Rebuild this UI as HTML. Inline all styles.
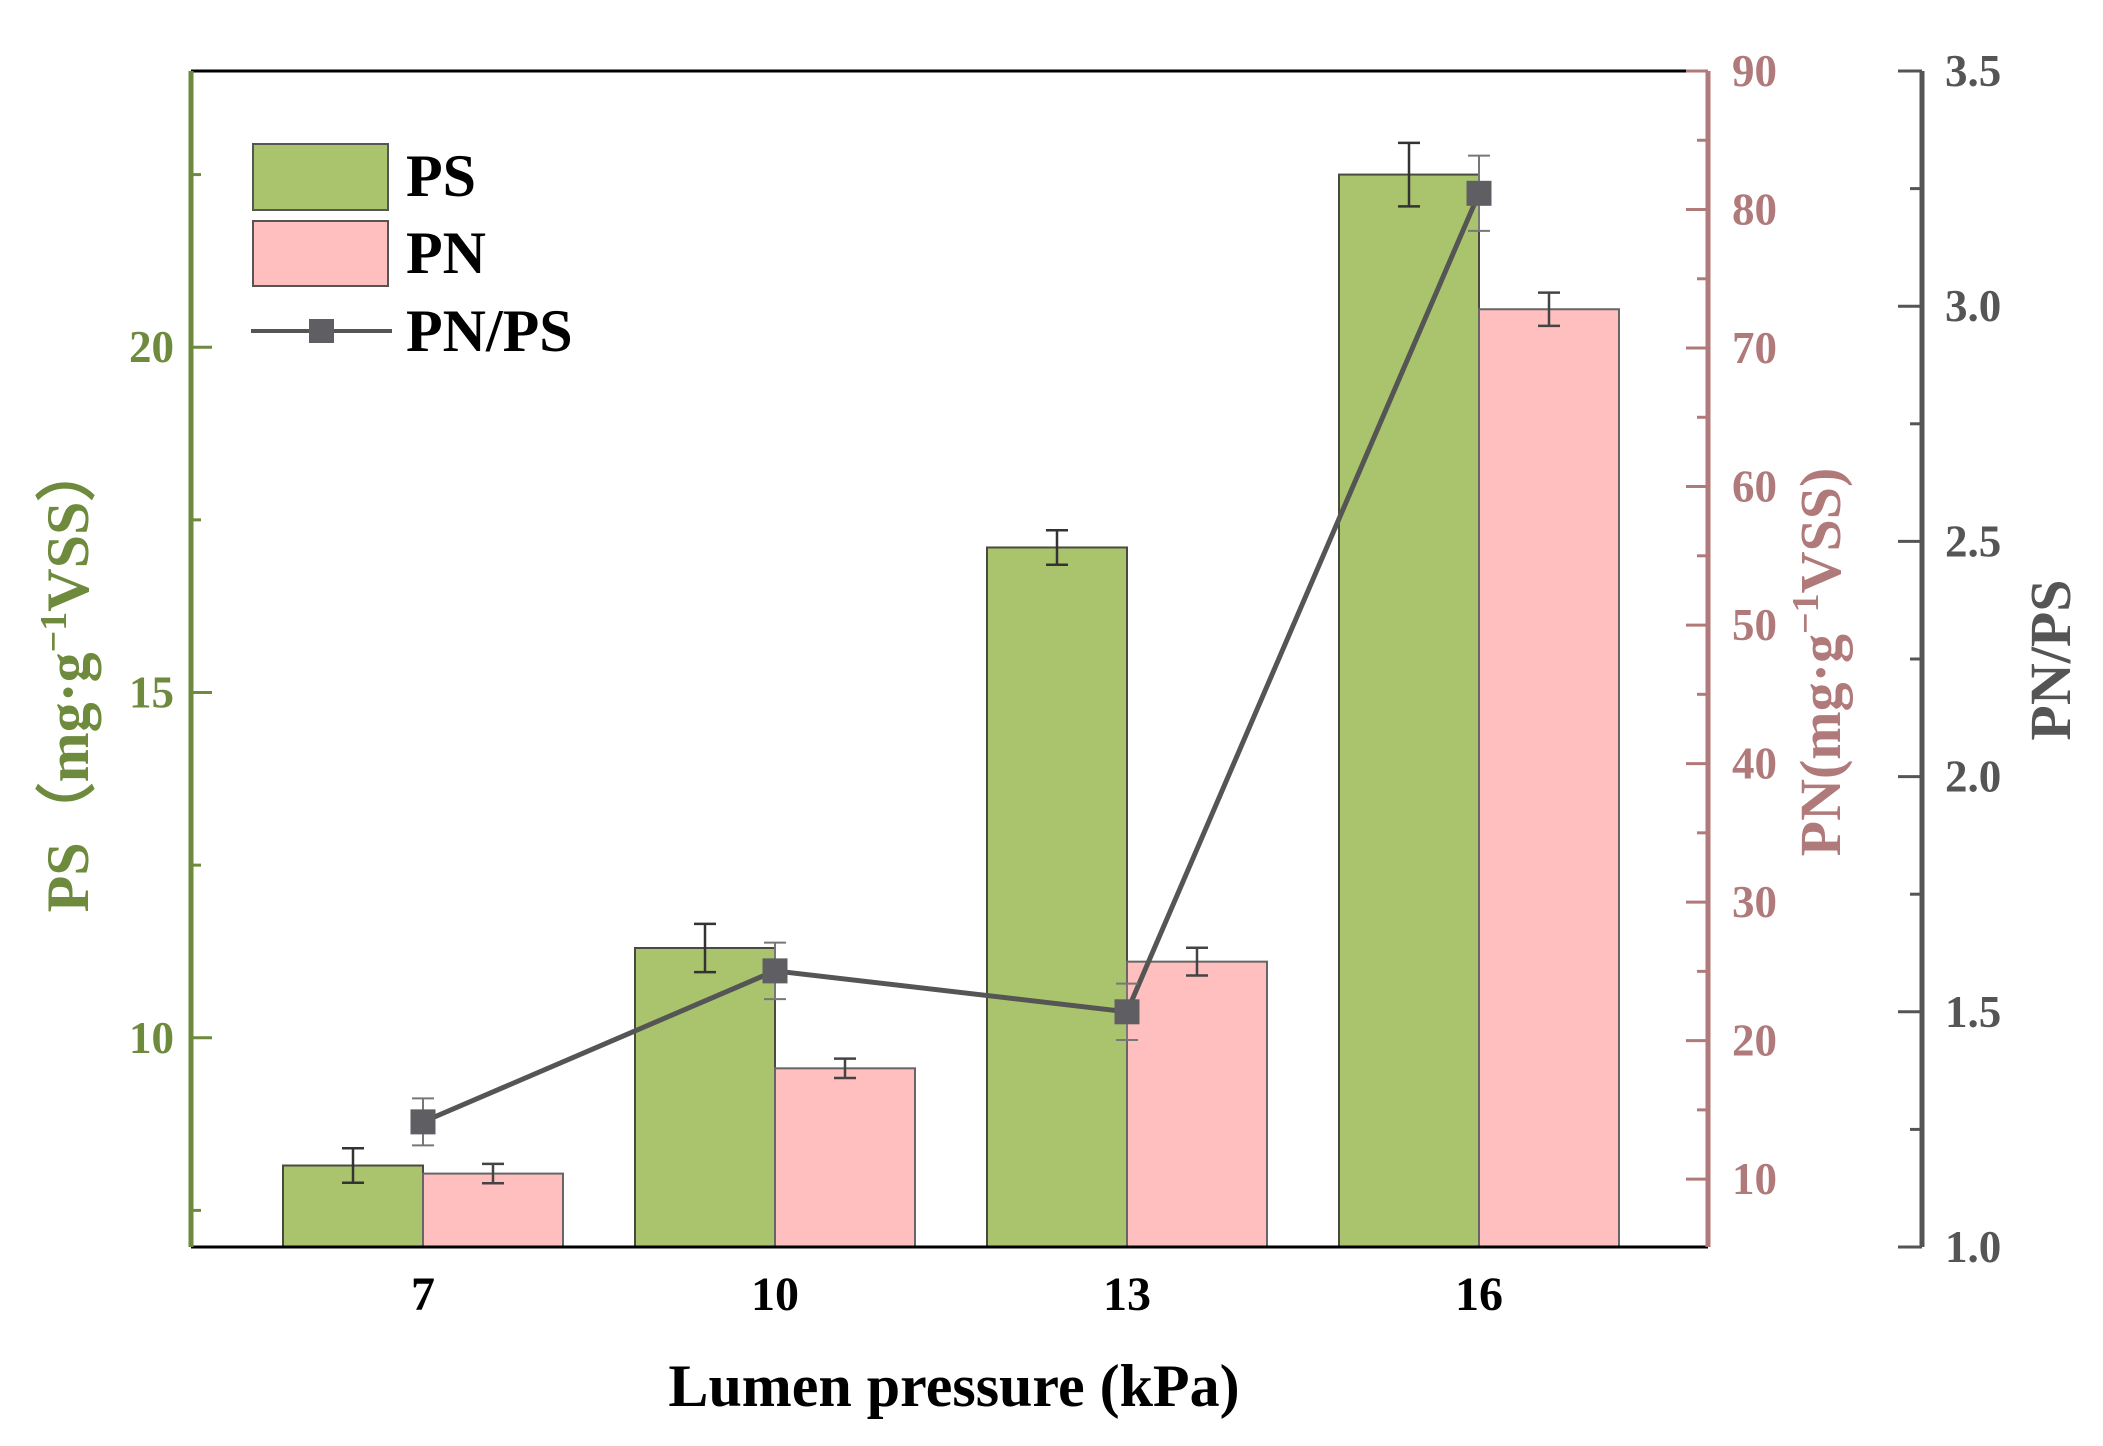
<!DOCTYPE html>
<html><head><meta charset="utf-8"><style>
html,body{margin:0;padding:0;background:#fff;}
svg{display:block;font-family:"Liberation Serif",serif;font-weight:bold;}
</style></head><body>
<svg id="chart" width="2103" height="1446" viewBox="0 0 2103 1446" xmlns="http://www.w3.org/2000/svg">
<g id="bars"></g>
<g id="line"></g>
<g id="axes"></g>
<g>
  <rect x="253" y="144" width="135" height="66" fill="#a9c46c" stroke="#555" stroke-width="2"/>
  <text x="406" y="196" font-size="60" fill="#000">PS</text>
  <rect x="253" y="221" width="135" height="65" fill="#ffbfbf" stroke="#555" stroke-width="2"/>
  <text x="406" y="273" font-size="60" fill="#000">PN</text>
  <line x1="251" y1="331" x2="392" y2="331" stroke="#555" stroke-width="4"/>
  <rect x="309" y="319" width="25" height="24" fill="#5f5f63"/>
  <text x="406" y="351" font-size="60" fill="#000">PN/PS</text>
</g>
<text x="954" y="1406" font-size="60" text-anchor="middle" fill="#000">Lumen pressure (kPa)</text>
<text transform="translate(88,677) rotate(-90)" font-size="60" text-anchor="middle" fill="#6e8a3c">PS（mg·g<tspan font-size="38" dy="-22">−1</tspan><tspan dy="22">VSS）</tspan></text>
<text transform="translate(1840,662) rotate(-90)" font-size="58" text-anchor="middle" fill="#b07a7a">PN(mg·g<tspan font-size="38" dy="-22">−1</tspan><tspan dy="22">VSS)</tspan></text>
<text transform="translate(2070,660) rotate(-90)" font-size="58" text-anchor="middle" fill="#555">PN/PS</text>
</svg>
<script>
const categories = ["7","10","13","16"];
const psValues = [8.15, 11.3, 17.1, 22.5];
const psErrors = [0.25, 0.35, 0.25, 0.46];
const pnValues = [10.4, 18.0, 25.7, 72.8];
const pnErrors = [0.7, 0.7, 1.0, 1.2];
const ratioValues = [1.266, 1.587, 1.50, 3.24];
const ratioErrors = [0.05, 0.06, 0.06, 0.08];
const psTicks = [10, 15, 20];
const pnTicks = [10, 20, 30, 40, 50, 60, 70, 80, 90];
const ratioTicks = ["1.0","1.5","2.0","2.5","3.0","3.5"];

const NS = "http://www.w3.org/2000/svg";
const L = 191, R = 1708, T = 71, B = 1247, R2 = 1922;
const xC = i => 423 + 352 * i;
const yPS = v => B - (v - 6.97) / (24.0 - 6.97) * (B - T);
const yPN = v => B - (v - 5.1) / (90 - 5.1) * (B - T);
const yR = v => B - (v - 1) / 2.5 * (B - T);
function mk(tag, attrs, parent) {
  const e = document.createElementNS(NS, tag);
  for (const k in attrs) e.setAttribute(k, attrs[k]);
  parent.appendChild(e);
  return e;
}
const bars = document.getElementById('bars');
const line = document.getElementById('line');
const axes = document.getElementById('axes');
const BW = 140;
function errBar(x, y1, y2, col, name) {
  const g = mk('g', {stroke: col, 'stroke-width': 2.5}, bars);
  
  
  mk('line', {x1: x, y1: y1, x2: x, y2: y2}, g);
  mk('line', {x1: x - 11, y1: y1, x2: x + 11, y2: y1}, g);
  mk('line', {x1: x - 11, y1: y2, x2: x + 11, y2: y2}, g);
}
categories.forEach((c, i) => {
  const x = xC(i);
  let y = yPS(psValues[i]);
  const b1 = mk('rect', {x: x - BW, y: y, width: BW, height: B - y, fill: '#a9c46c', stroke: '#4a4a40', 'stroke-width': 2}, bars);
  
  
  errBar(x - BW / 2, yPS(psValues[i] + psErrors[i]), yPS(psValues[i] - psErrors[i]), '#333', 'ps-error-' + c);
  y = yPN(pnValues[i]);
  const b2 = mk('rect', {x: x, y: y, width: BW, height: B - y, fill: '#ffbfbf', stroke: '#666', 'stroke-width': 2}, bars);
  
  
  errBar(x + BW / 2, yPN(pnValues[i] + pnErrors[i]), yPN(pnValues[i] - pnErrors[i]), '#444', 'pn-error-' + c);
});
const pts = ratioValues.map((v, i) => xC(i) + ',' + yR(v)).join(' ');
const pl = mk('polyline', {points: pts, fill: 'none', stroke: '#555', 'stroke-width': 5}, line);


ratioValues.forEach((v, i) => {
  const x = xC(i), y = yR(v);
  const eg = mk('g', {stroke: '#777', 'stroke-width': 2}, line);
  
  
  const y1 = yR(v + ratioErrors[i]), y2 = yR(v - ratioErrors[i]);
  mk('line', {x1: x, y1: y1, x2: x, y2: y2}, eg);
  mk('line', {x1: x - 11, y1: y1, x2: x + 11, y2: y1}, eg);
  mk('line', {x1: x - 11, y1: y2, x2: x + 11, y2: y2}, eg);
  const m = mk('rect', {x: x - 12.5, y: y - 12.5, width: 25, height: 25, fill: '#5f5f63'}, line);
  
  
});
let e = mk('line', {x1: L, y1: T, x2: R, y2: T, stroke: '#000', 'stroke-width': 3}, axes);
 
e = mk('line', {x1: L, y1: B, x2: R, y2: B, stroke: '#000', 'stroke-width': 3}, axes);
 
e = mk('line', {x1: L, y1: T, x2: L, y2: B, stroke: '#6e8a3c', 'stroke-width': 5}, axes);
 
e = mk('line', {x1: R, y1: T, x2: R, y2: B, stroke: '#b07a7a', 'stroke-width': 5}, axes);
 
e = mk('line', {x1: R2, y1: T, x2: R2, y2: B, stroke: '#555', 'stroke-width': 5}, axes);
 
categories.forEach((c, i) => {
  const t = mk('text', {x: xC(i), y: 1310, 'font-size': 48, 'text-anchor': 'middle', fill: '#000'}, axes);
  t.textContent = c;
  
  
});
[7.5, 10, 12.5, 15, 17.5, 20, 22.5].forEach(v => {
  const major = v % 5 === 0;
  mk('line', {x1: L, y1: yPS(v), x2: L + (major ? 21 : 10), y2: yPS(v), stroke: '#6e8a3c', 'stroke-width': 3}, axes);
});
psTicks.forEach(v => {
  const t = mk('text', {x: 174, y: yPS(v) + 15, 'font-size': 45, 'text-anchor': 'end', fill: '#6e8a3c'}, axes);
  t.textContent = v;
  
  
});
for (let v = 10; v <= 90; v += 5) {
  const major = v % 10 === 0;
  mk('line', {x1: R, y1: yPN(v), x2: R - (major ? 22 : 11), y2: yPN(v), stroke: '#b07a7a', 'stroke-width': 3}, axes);
}
pnTicks.forEach(v => {
  const t = mk('text', {x: 1732, y: yPN(v) + 15, 'font-size': 45, fill: '#b07a7a'}, axes);
  t.textContent = v;
  
  
});
for (let k = 0; k <= 10; k++) {
  const v = 1 + k * 0.25;
  const major = k % 2 === 0;
  mk('line', {x1: R2, y1: yR(v), x2: R2 - (major ? 24 : 12), y2: yR(v), stroke: '#555', 'stroke-width': 3}, axes);
}
ratioTicks.forEach(s => {
  const t = mk('text', {x: 1945, y: yR(parseFloat(s)) + 15, 'font-size': 45, fill: '#555'}, axes);
  t.textContent = s;
  
  
});
</script>
</body></html>
